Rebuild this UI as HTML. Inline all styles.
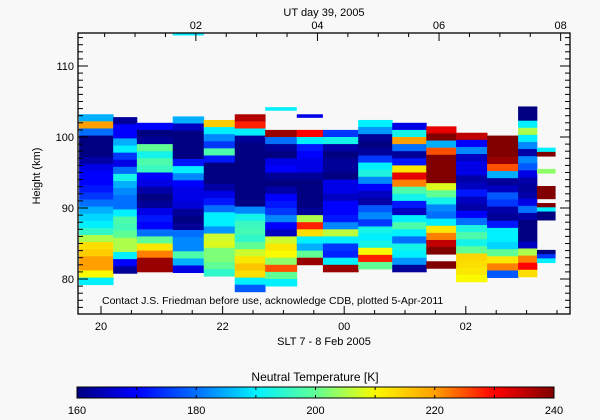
<!DOCTYPE html>
<html><head><meta charset="utf-8">
<style>
html,body{margin:0;padding:0;background:#f8f8f8;}
svg{display:block;font-family:"Liberation Sans",sans-serif;}
</style></head>
<body>
<svg id="chart" width="600" height="420" viewBox="0 0 600 420" xmlns="http://www.w3.org/2000/svg">
<rect x="0" y="0" width="600" height="420" fill="#f8f8f8"/>
<g id="cells"></g>
<g id="axes"></g>
<text x="324" y="16" font-size="11" text-anchor="middle">UT day 39, 2005</text>
<text x="40" y="176" font-size="11" text-anchor="middle" transform="rotate(-90 40 176)">Height (km)</text>
<text x="324" y="345" font-size="11" text-anchor="middle">SLT 7 - 8 Feb 2005</text>
<text x="102" y="304" font-size="10.5">Contact J.S. Friedman before use, acknowledge CDB, plotted 5-Apr-2011</text>
<text x="315" y="381" font-size="12" text-anchor="middle">Neutral Temperature [K]</text>
<defs><linearGradient id="cbg" x1="0" x2="1" y1="0" y2="0"></linearGradient></defs>
<rect x="77" y="387" width="477" height="11" fill="url(#cbg)" stroke="#000" stroke-width="1"/>
<g id="cbticks"></g>
</svg>
<script>
// column time edges (SLT hours)
const colStart=[19.64,20.20,20.59,21.18,21.69,22.20,22.70,23.22,23.65,24.23,24.79,25.35,25.84,26.35,26.86,27.17];
const colEnd  =[20.20,20.59,21.18,21.69,22.20,22.70,23.22,23.65,24.23,24.79,25.35,25.84,26.35,26.86,27.17,27.47];
// top height of each column (km) and bin size (km)
const colTop=[103.2,102.8,102.0,102.9,102.4,103.2,101.0,101.0,101.0,102.4,102.0,101.5,100.6,100.2,104.3,98.5];
const colDz=[1,1,1,1,1,1,1,1,1,1,1,1,1,1,1,0.6];
// temperatures (K) top to bottom; null = no data
const t01=[185,220,180,160,160,160,163,168,170,170,172,175,180,185,188,190,195,205,213,215,220,220,210,190];
const t02=[162,170,170,185,190,175,168,180,192,185,182,180,180,190,198,197,200,205,205,190,170,162];
const t03=[170,160,162,200,192,198,196,170,168,163,160,162,168,172,170,180,200,212,222,238,238];
const t04=[185,165,160,160,160,160,172,190,182,170,168,168,167,162,160,162,180,182,182,198,185,168];
const t05=[215,190,182,175,198,172,160,160,160,163,168,172,180,190,190,183,207,208,202,202,200,195];
const t06=[236,228,190,162,160,160,160,160,160,160,160,160,160,182,192,196,197,195,200,207,212,216,213,190,178];
const t07=[238,180,162,160,168,170,162,160,163,170,172,175,182,170,165,207,212,210,203,225,200,190];
const t08=[230,190,172,170,168,168,162,160,160,160,160,162,205,228,213,190,185,200,238];
const t09=[175,192,163,160,162,162,160,168,168,165,170,170,172,182,206,190,175,173,190,238];
const t10=[190,183,162,160,162,175,190,193,182,170,165,163,178,182,175,192,190,192,210,228,200];
const t11=[168,192,220,180,162,172,212,232,222,198,192,172,165,190,198,190,180,192,190,183,162];
const t12=[232,240,185,225,240,240,240,240,208,200,192,182,180,190,212,222,235,240,null,240];
const t13=[235,170,182,165,168,168,163,165,172,165,163,170,180,193,198,192,200,214,213,212,210];
const t14=[240,240,240,238,225,185,162,165,178,175,163,162,172,190,190,188,200,212,222,178];
const t15=[160,160,190,205,190,182,163,182,178,168,163,162,163,168,180,163,160,160,160,165,205,222,230,213];
const t16=[190,240,null,null,null,203,null,null,null,240,240,240,null,240,190,160,160,null,null,null,null,null,null,null,160,175,190];
const temps=[t01,t02,t03,t04,t05,t06,t07,t08,t09,t10,t11,t12,t13,t14,t15,t16];
// isolated patches: start, end (hours), top, bottom (km), temperature
const extraStart=[21.18,22.70,23.22];
const extraEnd=[21.69,23.22,23.65];
const extraTop=[114.6,104.2,103.2];
const extraBot=[114.3,103.7,102.7];
const extraVal=[190,190,168];
// axis ticks
const sltTicks=[20,22,24,26];
const sltLabels=["20","22","00","02"];
const utTicks=[2,4,6,8];
const utLabels=["02","04","06","08"];
const utOffset=19.56;
const hTicks=[80,90,100,110];
const hLabels=["80","90","100","110"];
const cbTicks=[160,180,200,220,240];
const cbLabels=["160","180","200","220","240"];

const X0=78,X1=570,Y0=33,Y1=314;
function xS(h){return 101+(h-20)*60.8;}
function yS(z){return 137-(z-100)*7.1;}
const stops=[[160,[0,0,128]],[170,[0,0,255]],[180,[0,110,255]],[190,[0,240,255]],[200,[96,255,150]],[210,[250,250,0]],[220,[255,160,0]],[230,[255,0,0]],[240,[128,0,0]]];
function col(t){
  t=Math.max(160,Math.min(240,t));
  for(let i=0;i<stops.length-1;i++){
    const a=stops[i],b=stops[i+1];
    if(t<=b[0]){const f=(t-a[0])/(b[0]-a[0]);
      const c=a[1].map((v,k)=>Math.round(v+(b[1][k]-v)*f));
      return `rgb(${c[0]},${c[1]},${c[2]})`;}
  }
  return "rgb(128,0,0)";
}
const NS="http://www.w3.org/2000/svg";
function mk(tag,attrs,parent){const e=document.createElementNS(NS,tag);for(const k in attrs)e.setAttribute(k,attrs[k]);parent.appendChild(e);return e;}
const cells=document.getElementById('cells');
temps.forEach((arr,i)=>{
  const x=xS(colStart[i]),w=xS(colEnd[i])-x;
  arr.forEach((v,j)=>{
    if(v===null)return;
    const zt=colTop[i]-j*colDz[i],zb=zt-colDz[i];
    const y=yS(zt),h=yS(zb)-y;
    const r=mk('rect',{x:x.toFixed(2),y:y.toFixed(2),width:(w+0.4).toFixed(2),height:(h+0.4).toFixed(2),fill:col(v)},cells);
    
    
  });
});
extraVal.forEach((v,i)=>{
  const x=xS(extraStart[i]),w=xS(extraEnd[i])-x,y=yS(extraTop[i]),h=yS(extraBot[i])-y;
  const r=mk('rect',{x:x,y:y,width:w,height:h,fill:col(v)},cells);
  
  
});
const ax=document.getElementById('axes');
const fr=mk('rect',{x:X0,y:Y0,width:X1-X0,height:Y1-Y0,fill:'none',stroke:'#000','stroke-width':1.3},ax);


function line(x1,y1,x2,y2){mk('line',{x1:x1,y1:y1,x2:x2,y2:y2,stroke:'#000','stroke-width':1},ax);}
// height ticks
for(let z=76;z<=114;z++){const y=yS(z);const L=(z%10===0)?10:5;line(X0,y,X0+L,y);line(X1,y,X1-L,y);}
hTicks.forEach((z,i)=>{const t=mk('text',{x:X0-4,y:yS(z)+4,'font-size':11,'text-anchor':'end'},ax);t.textContent=hLabels[i];
  
  });
// SLT ticks
for(let h=20;h<=27.6;h+=0.5){const x=xS(h);const L=(Math.abs(h%2)<0.01)?8:4;line(x,Y1,x,Y1-L);}
sltTicks.forEach((h,i)=>{const t=mk('text',{x:xS(h),y:330,'font-size':11,'text-anchor':'middle'},ax);t.textContent=sltLabels[i];
  
  });
// UT ticks
for(let u=0.5;u<=8.1;u+=0.5){const x=xS(u+utOffset);if(x<X0||x>X1)continue;const L=(Math.abs(u%2)<0.01)?8:4;line(x,Y0,x,Y0+L);}
utTicks.forEach((u,i)=>{const t=mk('text',{x:xS(u+utOffset),y:29,'font-size':11,'text-anchor':'middle'},ax);t.textContent=utLabels[i];
  
  });
// colorbar
const g=document.getElementById('cbg');
for(let t=160;t<=240;t+=5){mk('stop',{offset:((t-160)/80).toFixed(4),'stop-color':col(t)},g);}
const cbt=document.getElementById('cbticks');
function cbx(t){return 77+(t-160)/80*477;}
for(let t=170;t<240;t+=10){mk('line',{x1:cbx(t),y1:387,x2:cbx(t),y2:390,stroke:'#000','stroke-width':1},cbt);mk('line',{x1:cbx(t),y1:398,x2:cbx(t),y2:395,stroke:'#000','stroke-width':1},cbt);}
cbTicks.forEach((t,i)=>{const e=mk('text',{x:cbx(t),y:414,'font-size':11,'text-anchor':'middle'},cbt);e.textContent=cbLabels[i];
  
  });
</script>
</body></html>
